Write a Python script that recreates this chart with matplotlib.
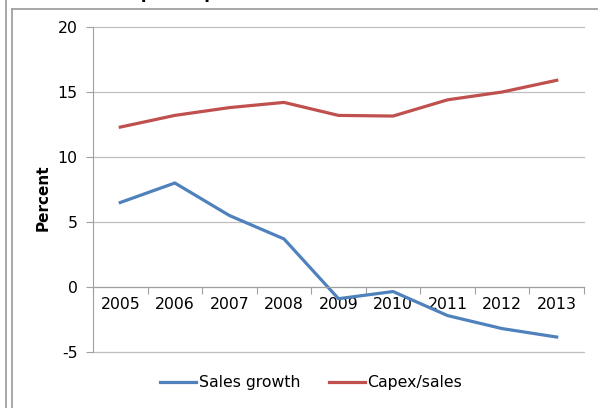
import numpy as np
import matplotlib
matplotlib.use('Agg')
import matplotlib.pyplot as plt
from matplotlib.lines import Line2D

# values (percent)
years = ['2005', '2006', '2007', '2008', '2009', '2010', '2011', '2012', '2013']
sales_growth = [6.5, 8.0, 5.5, 3.7, -0.9, -0.35, -2.2, -3.2, -3.85]
capex_sales = [12.3, 13.2, 13.8, 14.2, 13.2, 13.15, 14.4, 15.0, 15.9]
y_ticks = [-5, 0, 5, 10, 15, 20]

blue = '#4F81BD'
red = '#C0504D'
grey = '#A0A0A0'

W, H = 598, 408
fig = plt.figure(figsize=(W / 100, H / 100), dpi=100)

# frames of the surrounding sheet, partly outside the picture
fig.add_artist(Line2D([6 / W, 6 / W], [0, 1], color=grey, lw=1.3))
fig.add_artist(Line2D([11.5 / W, 11.5 / W], [0, 1 - 9 / H], color=grey, lw=1.3))
fig.add_artist(Line2D([11.5 / W, 1], [1 - 9 / H, 1 - 9 / H], color=grey, lw=1.3))
# title sits mostly above the top edge, as in the reference
fig.text(0.47, 1 + 2 / H, 'European operations of sector 2005-13', ha='center',
         va='baseline', fontsize=12, fontweight='bold')

ax = fig.add_axes([93 / W, 1 - 352 / H, (584 - 93) / W, (352 - 27) / H])
x = np.arange(len(years))
ax.plot(x, sales_growth, color=blue, lw=2.3, label='Sales growth')
ax.plot(x, capex_sales, color=red, lw=2.3, label='Capex/sales')

ax.set_xlim(-0.5, len(years) - 0.5)
ax.set_ylim(-5, 20)
ax.set_yticks(y_ticks)
ax.set_yticklabels([str(v) for v in y_ticks])
ax.grid(axis='y', color='#BFBFBF', lw=0.9)
for gl in ax.get_ygridlines():
    gl.set_clip_on(False)
ax.set_axisbelow(True)

for side in ['top', 'right']:
    ax.spines[side].set_visible(False)
ax.spines['left'].set_color(grey)
ax.spines['bottom'].set_color(grey)
ax.spines['bottom'].set_position(('data', 0))

# category boundary ticks on the zero axis, labels at the centres
ax.set_xticks(np.arange(len(years) + 1) - 0.5)
ax.set_xticklabels([])
ax.set_xticks(x, minor=True)
ax.set_xticklabels(years, minor=True)
ax.tick_params(axis='x', which='major', direction='out', length=5, color=grey)
ax.tick_params(axis='x', which='minor', length=0, pad=7, labelsize=11.3)
ax.tick_params(axis='y', direction='out', length=5, color=grey, pad=6, labelsize=11.3)

ax.set_ylabel('Percent', fontsize=11, fontweight='bold')
ax.yaxis.set_label_coords(-0.086, 0.474)

ax.legend(loc='center', bbox_to_anchor=(311 / W, 1 - 383 / H),
          bbox_transform=fig.transFigure, ncol=2, frameon=False,
          fontsize=11.3, handlelength=2.3, handletextpad=0.15, columnspacing=1.8)

fig.savefig('out.png', dpi=100)
